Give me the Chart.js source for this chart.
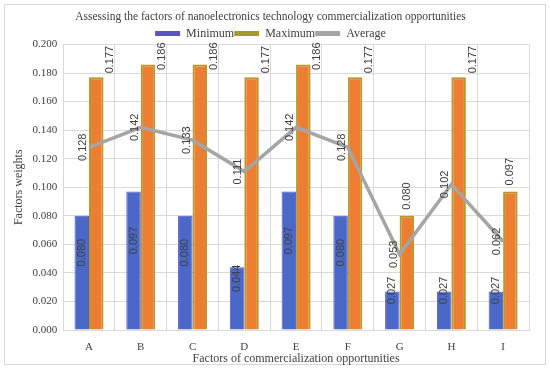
<!DOCTYPE html>
<html>
<head>
<meta charset="utf-8">
<script src="https://cdn.jsdelivr.net/npm/chart.js@4.4.0/dist/chart.umd.min.js"></script>
<style>
  body { margin: 0; background: #fff; }
  #wrap { width: 550px; height: 371px; }
</style>
</head>
<body>
<div id="wrap"><canvas id="factors_chart" width="550" height="371"></canvas></div>
<script>
var categories = ['A', 'B', 'C', 'D', 'E', 'F', 'G', 'H', 'I']
var minimumValues = [0.080, 0.097, 0.080, 0.044, 0.097, 0.080, 0.027, 0.027, 0.027]
var maximumValues = [0.177, 0.186, 0.186, 0.177, 0.186, 0.177, 0.080, 0.177, 0.097]
var averageValues = [0.128, 0.142, 0.133, 0.111, 0.142, 0.128, 0.053, 0.102, 0.062]

var serif = '"Liberation Serif", "Times New Roman", serif'
var sans = '"Liberation Sans", Arial, sans-serif'

// draws the outer frame and the rotated value labels
var labelsPlugin = {
    id: 'valueLabels',
    beforeDraw: function (chart) {
        var c = chart.ctx
        c.save()
        c.strokeStyle = '#d9d9d9'
        c.lineWidth = 1
        c.strokeRect(4.5, 4.5, 541, 360)
        c.restore()
    },
    afterDatasetsDraw: function (chart) {
        var c = chart.ctx
        var area = chart.chartArea
        c.save()
        c.font = '11px ' + sans
        c.fillStyle = '#404040'
        chart.data.datasets.forEach(function (ds, i) {
            var meta = chart.getDatasetMeta(i)
            meta.data.forEach(function (el, j) {
                var txt = ds.data[j].toFixed(3)
                var w = c.measureText(txt).width
                c.save()
                if (i === 0) {
                    c.translate(el.x, (el.y + el.base) / 2 - 20)
                    c.rotate(-Math.PI / 2)
                    c.textAlign = 'center'
                } else if (i === 1) {
                    var x = el.x
                    var y = el.y - 6
                    if (y - w < area.top) {
                        x += 14
                        y = Math.max(el.y - 4, area.top + w - 2)
                    }
                    c.translate(x, y)
                    c.rotate(-Math.PI / 2)
                    c.textAlign = 'left'
                } else {
                    c.translate(el.x - 6, el.y)
                    c.rotate(-Math.PI / 2)
                    c.textAlign = 'center'
                }
                c.textBaseline = 'middle'
                c.fillText(txt, 0, 0)
                c.restore()
            })
        })
        c.restore()
    }
}

var legendColors = ['#5b55c4', '#a59b2a', '#a5a5a5']

var ctx = document.getElementById('factors_chart')

var factorsChart = new Chart(ctx, {
    type: 'bar',
    data: {
        labels: categories,
        datasets: [{
            label: 'Minimum',
            data: minimumValues,
            backgroundColor: '#4a68c8',
            borderColor: '#5b55c4',
            borderWidth: 1,
            categoryPercentage: 0.56,
            barPercentage: 1.0,
            order: 2
        }, {
            label: 'Maximum',
            data: maximumValues,
            backgroundColor: '#ed7d31',
            borderColor: '#b8962a',
            borderWidth: 2,
            categoryPercentage: 0.56,
            barPercentage: 1.0,
            order: 2
        }, {
            type: 'line',
            label: 'Average',
            data: averageValues,
            borderColor: '#a5a5a5',
            backgroundColor: '#a5a5a5',
            borderWidth: 3.5,
            pointRadius: 0,
            tension: 0,
            order: 1
        }]
    },
    options: {
        responsive: false,
        animation: false,
        layout: {
            padding: { left: 12, right: 21, top: 6, bottom: 6 }
        },
        plugins: {
            title: {
                display: true,
                text: 'Assessing the factors of nanoelectronics technology commercialization opportunities',
                color: '#404040',
                font: { family: serif, size: 11.5, weight: 'normal', lineHeight: 1 },
                padding: { top: 5, bottom: 5 }
            },
            legend: {
                display: true,
                maxHeight: 17,
                labels: {
                    color: '#404040',
                    font: { family: 'Liberation Serif', size: 12, lineHeight: 1 },
                    boxWidth: 25,
                    boxHeight: 5,
                    padding: 0,
                    sort: function (a, b) { return a.datasetIndex - b.datasetIndex },
                    generateLabels: function (chart) {
                        var items = Chart.defaults.plugins.legend.labels.generateLabels(chart)
                        items.forEach(function (it) {
                            it.fillStyle = legendColors[it.datasetIndex]
                            it.strokeStyle = legendColors[it.datasetIndex]
                            it.lineWidth = 0
                        })
                        return items
                    }
                }
            },
            tooltip: { enabled: false }
        },
        scales: {
            x: {
                grid: { color: '#d9d9d9', offset: true, drawTicks: false },
                border: { color: '#d9d9d9' },
                ticks: { color: '#404040', font: { family: serif, size: 11, lineHeight: 1 }, padding: 12 },
                title: {
                    display: true,
                    text: 'Factors of commercialization opportunities',
                    color: '#404040',
                    font: { family: serif, size: 12, lineHeight: 1 },
                    padding: { top: -12, bottom: 0 }
                }
            },
            y: {
                min: 0,
                max: 0.2,
                grid: { color: '#d9d9d9', drawTicks: false },
                border: { color: '#d9d9d9' },
                ticks: {
                    stepSize: 0.02,
                    color: '#404040',
                    font: { family: 'Liberation Serif', size: 11 },
                    padding: 6,
                    callback: function (v) { return v.toFixed(3) }
                },
                title: {
                    display: true,
                    text: 'Factors weights',
                    color: '#404040',
                    font: { family: serif, size: 12 },
                    padding: { top: 0, bottom: 0 }
                }
            }
        }
    },
    plugins: [labelsPlugin]
})
</script>
</body>
</html>
